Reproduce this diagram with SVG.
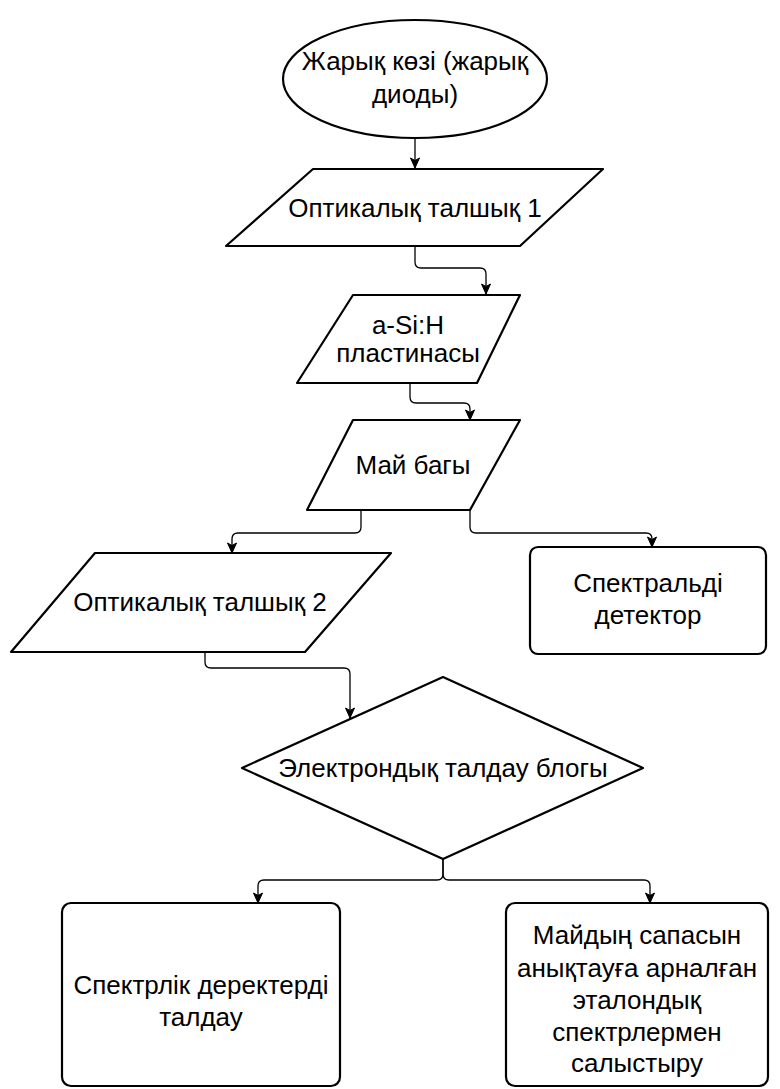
<svg xmlns="http://www.w3.org/2000/svg" width="780" height="1089" viewBox="0 0 780 1089">
<style>
.shape{fill:#fff;stroke:#000;stroke-width:2.2;stroke-linejoin:round}
.conn{fill:none;stroke:#000;stroke-width:1.3}
.t{font-family:"Liberation Sans",Arial,sans-serif;font-size:26px;fill:#000;text-anchor:middle}
</style>
<defs>
<marker id="arr" markerUnits="userSpaceOnUse" markerWidth="12" markerHeight="12" viewBox="0 0 12 12" refX="11" refY="6" orient="auto">
<path d="M1 1.5 L11 6 L1 10.5 L3.5 6 Z" fill="#000" stroke="#000" stroke-width="1"/>
</marker>
</defs>
<rect width="780" height="1089" fill="#fff"/>
<g id="connectors">
<path class="conn" d="M415 138 V168" marker-end="url(#arr)"/>
<path class="conn" d="M415 246 V262 Q415 268 421 268 H480 Q486 268 486 274 V294" marker-end="url(#arr)"/>
<path class="conn" d="M410 383 V397 Q410 403 416 403 H464 Q470 403 470 409 V420" marker-end="url(#arr)"/>
<path class="conn" d="M361 510 V527 Q361 533 355 533 H238 Q232 533 232 539 V553" marker-end="url(#arr)"/>
<path class="conn" d="M470 510 V527 Q470 533 476 533 H646 Q652 533 652 539 V547" marker-end="url(#arr)"/>
<path class="conn" d="M205 652 V662 Q205 668 211 668 H344 Q350 668 350 674 V718" marker-end="url(#arr)"/>
<path class="conn" d="M443 859 V874 Q443 880 437 880 H264 Q258 880 258 886 V903" marker-end="url(#arr)"/>
<path class="conn" d="M443 859 V874 Q443 880 449 880 H644 Q650 880 650 886 V903" marker-end="url(#arr)"/>
</g>
<g id="source">
<ellipse class="shape" cx="415" cy="79" rx="132" ry="59"/>
<text class="t" x="415" y="70">Жарық көзі (жарық</text>
<text class="t" x="415" y="103">диоды)</text>
</g>
<g id="fiber1">
<path class="shape" d="M313 169 H603 L520 246 H226 Z"/>
<text class="t" x="415" y="217">Оптикалық талшық 1</text>
</g>
<g id="plate">
<path class="shape" d="M353 295 H520 L477 383 H297 Z"/>
<text class="t" x="408" y="334">a-Si:H</text>
<text class="t" x="408" y="362">пластинасы</text>
</g>
<g id="oil">
<path class="shape" d="M353 420 H520 L470 510 H307 Z"/>
<text class="t" x="413" y="474">Май багы</text>
</g>
<g id="fiber2">
<path class="shape" d="M95 553 H391 L305 652 H11 Z"/>
<text class="t" x="200" y="611">Оптикалық талшық 2</text>
</g>
<g id="detector">
<rect class="shape" x="530" y="547" width="236" height="107" rx="8"/>
<text class="t" x="648" y="592">Спектральді</text>
<text class="t" x="648" y="624">детектор</text>
</g>
<g id="analysis">
<path class="shape" d="M443 677 L643 768 L443 859 L242 768 Z"/>
<text class="t" x="443" y="777">Электрондық талдау блогы</text>
</g>
<g id="spectral">
<rect class="shape" x="62" y="903" width="278" height="183" rx="9"/>
<text class="t" x="201" y="994">Спектрлік деректерді</text>
<text class="t" x="201" y="1026">талдау</text>
</g>
<g id="compare">
<rect class="shape" x="506" y="903" width="262" height="183" rx="9"/>
<text class="t" x="637" y="944">Майдың сапасын</text>
<text class="t" x="637" y="977">анықтауға арналған</text>
<text class="t" x="637" y="1009">эталондық</text>
<text class="t" x="637" y="1041">спектрлермен</text>
<text class="t" x="637" y="1072">салыстыру</text>
</g>
</svg>
